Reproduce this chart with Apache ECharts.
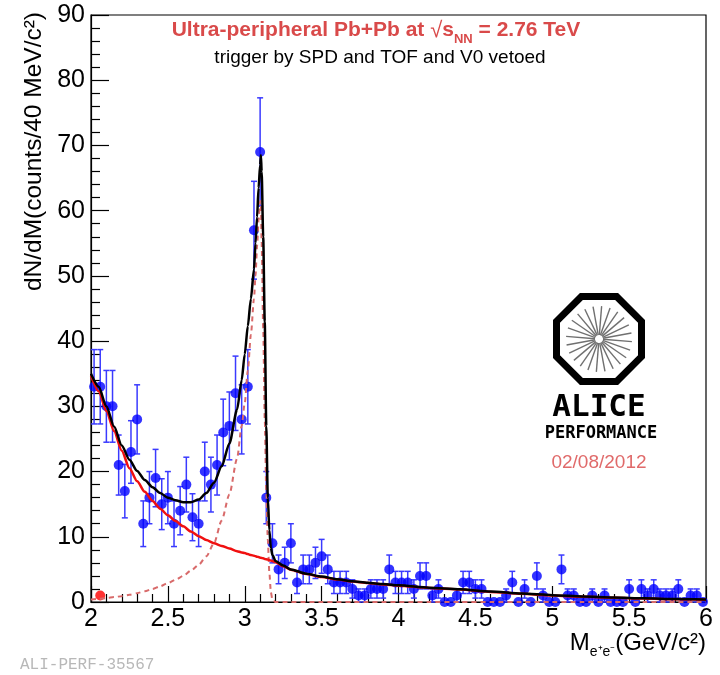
<!DOCTYPE html>
<html>
<head>
<meta charset="utf-8">
<title>Ultra-peripheral Pb+Pb e+e- invariant mass</title>
<script src="https://cdn.jsdelivr.net/npm/echarts@6/dist/echarts.min.js"></script>
<style>
  html, body { margin: 0; padding: 0; background: #ffffff; }
  #chart { width: 720px; height: 675px; }
</style>
</head>
<body>
<div id="chart"></div>
<script>
// Bin centres of the e+e- invariant mass histogram (GeV/c^2, 40 MeV bins)
const binCenters = [
  2.02, 2.06, 2.10, 2.14, 2.18, 2.22, 2.26, 2.30, 2.34, 2.38,
  2.42, 2.46, 2.50, 2.54, 2.58, 2.62, 2.66, 2.70, 2.74, 2.78,
  2.82, 2.86, 2.90, 2.94, 2.98, 3.02, 3.06, 3.10, 3.14, 3.18,
  3.22, 3.26, 3.30, 3.34, 3.38, 3.42, 3.46, 3.50, 3.54, 3.58,
  3.62, 3.66, 3.70, 3.74, 3.78, 3.82, 3.86, 3.90, 3.94, 3.98,
  4.02, 4.06, 4.10, 4.14, 4.18, 4.22, 4.26, 4.30, 4.34, 4.38,
  4.42, 4.46, 4.50, 4.54, 4.58, 4.62, 4.66, 4.70, 4.74, 4.78,
  4.82, 4.86, 4.90, 4.94, 4.98, 5.02, 5.06, 5.10, 5.14, 5.18,
  5.22, 5.26, 5.30, 5.34, 5.38, 5.42, 5.46, 5.50, 5.54, 5.58,
  5.62, 5.66, 5.70, 5.74, 5.78, 5.82, 5.86, 5.90, 5.94, 5.98
];

// Counts per bin
const counts = [
  33, 33, 30, 30, 21, 17, 23, 28, 12, 16,
  19, 15, 16, 12, 14, 18, 13, 12, 20, 18,
  21, 26, 27, 32, 28, 33, 57, 69, 16, 9,
  5, 6, 9, 3, 5, 5, 6, 7, 5, 3,
  3, 3, 2, 1, 1, 2, 2, 2, 5, 3,
  3, 3, 2, 4, 4, 1, 2, 0, 0, 1,
  3, 3, 2, 2, 0, 0, 0, 1, 3, 0,
  2, 0, 4, 1, 0, 0, 5, 1, 1, 0,
  0, 1, 0, 1, 0, 0, 0, 2, 0, 2,
  1, 2, 1, 1, 1, 2, 0, 1, 1, 0
];

// Statistical uncertainty per bin
const countErrors = [
  5.7, 5.7, 5.5, 5.5, 4.6, 4.1, 4.8, 5.3, 3.5, 4.0,
  4.4, 3.9, 4.0, 3.5, 3.7, 4.2, 3.6, 3.5, 4.5, 4.2,
  4.6, 5.1, 5.2, 5.7, 5.3, 5.7, 7.5, 8.3, 4.0, 3.0,
  2.2, 2.4, 3.0, 1.7, 2.2, 2.2, 2.4, 2.6, 2.2, 1.7,
  1.7, 1.7, 1.4, 1.0, 1.0, 1.4, 1.4, 1.4, 2.2, 1.7,
  1.7, 1.7, 1.4, 2.0, 2.0, 1.0, 1.4, 0, 0, 1.0,
  1.7, 1.7, 1.4, 1.4, 0, 0, 0, 1.0, 1.7, 0,
  1.4, 0, 2.0, 1.0, 0, 0, 2.2, 1.0, 1.0, 0,
  0, 1.0, 0, 1.0, 0, 0, 0, 1.4, 0, 1.4,
  1.0, 1.4, 1.0, 1.0, 1.0, 1.4, 0, 1.0, 1.0, 0
];

// Extra single red point near threshold
const redPoint = [[2.06, 1.0]];

// Mass values at which the fit functions are sampled
const fitMass = [
  2.00, 2.05, 2.10, 2.15, 2.20, 2.25, 2.30, 2.35, 2.40, 2.45,
  2.50, 2.55, 2.60, 2.65, 2.70, 2.75, 2.80, 2.85, 2.90, 2.95,
  2.98, 3.00, 3.02, 3.04, 3.06, 3.07, 3.08, 3.09, 3.10, 3.105,
  3.11, 3.12, 3.13, 3.14, 3.15, 3.16, 3.17, 3.18, 3.20, 3.25,
  3.30, 3.40, 3.50, 3.60, 3.70, 3.80, 3.90, 4.00, 4.20, 4.40,
  4.60, 4.80, 5.00, 5.20, 5.40, 5.60, 5.80, 6.00
];

// Total fit (signal + continuum)
const totalFit = [
  35.0, 33.0, 30.0, 26.9, 24.0, 21.8, 20.1, 18.7, 17.6, 16.7,
  16.0, 15.6, 15.3, 15.3, 15.7, 16.7, 18.3, 20.8, 24.3, 29.5,
  34.0, 38.0, 42.3, 46.5, 51.0, 55.0, 59.0, 63.5, 67.0, 68.5,
  66.0, 56.0, 43.0, 27.0, 16.0, 11.0, 8.3, 7.2, 6.3, 5.6,
  5.0, 4.35, 3.9, 3.5, 3.2, 2.95, 2.75, 2.55, 2.2, 1.95,
  1.6, 1.3, 1.05, 0.85, 0.7, 0.56, 0.47, 0.4
];

// Continuum (gamma gamma -> e+e-) component
const continuumFit = [
  34.7, 32.3, 29.3, 26.2, 23.2, 20.5, 18.5, 16.9, 15.5, 14.3,
  13.3, 12.4, 11.6, 10.8, 10.1, 9.5, 9.0, 8.6, 8.2, 7.8,
  7.6, 7.5, 7.35, 7.2, 7.1, 7.0, 6.95, 6.9, 6.8, 6.78,
  6.75, 6.7, 6.6, 6.55, 6.5, 6.4, 6.35, 6.3, 6.1, 5.5,
  4.95, 4.3, 3.85, 3.45, 3.15, 2.9, 2.7, 2.5, 2.15, 1.9,
  1.55, 1.25, 1.0, 0.8, 0.65, 0.52, 0.43, 0.36
];

// J/psi signal shape
const jpsiFit = [
  0.4, 0.5, 0.6, 0.75, 0.9, 1.1, 1.35, 1.65, 2.0, 2.4,
  2.9, 3.4, 4.0, 4.8, 5.7, 7.0, 9.0, 12.5, 16.5, 22.0,
  27.0, 30.5, 35.5, 41.0, 46.5, 50.0, 54.5, 58.5, 61.5, 61.0,
  55.0, 42.0, 28.0, 17.0, 9.5, 4.5, 1.5, 0.3, 0, 0,
  0, 0, 0, 0, 0, 0, 0, 0, 0, 0,
  0, 0, 0, 0, 0, 0, 0, 0
];

const xTicks = { min: 2, max: 6, step: 0.5 };
const yTicks = { min: 0, max: 90, step: 10 };

const FONT = 'Liberation Sans, Arial, Helvetica, sans-serif';

const pointData = binCenters.map((m, i) => [m, counts[i], countErrors[i]]);
const pair = (ys) => fitMass.map((m, i) => [m, ys[i]]);

const chart = echarts.init(document.getElementById('chart'), null, { renderer: 'canvas' });

// ALICE logo: octagon outline with radial spokes
const logoCx = 599, logoCy = 339, logoR = 46;
const octPts = [];
for (let k = 0; k < 8; k++) {
  const a = Math.PI / 8 + k * Math.PI / 4;
  octPts.push([logoCx + logoR * Math.cos(a), logoCy + logoR * Math.sin(a)]);
}
const spokes = [];
for (let k = 0; k < 24; k++) {
  const a = k * Math.PI / 12 + 0.08;
  spokes.push({
    type: 'line',
    shape: {
      x1: logoCx + 4 * Math.cos(a), y1: logoCy + 4 * Math.sin(a),
      x2: logoCx + 33 * Math.cos(a), y2: logoCy + 33 * Math.sin(a)
    },
    style: { stroke: '#707070', lineWidth: 1.4 }
  });
}

const option = {
  backgroundColor: '#ffffff',
  animation: false,
  grid: {
    left: 91, right: 14, top: 15, bottom: 73,
    show: true, borderColor: '#000', borderWidth: 1.2, backgroundColor: 'transparent'
  },
  xAxis: {
    type: 'value',
    min: xTicks.min, max: xTicks.max, interval: xTicks.step,
    axisLine: { show: true, lineStyle: { color: '#000', width: 1.2 } },
    axisTick: { show: true, inside: true, length: 16, lineStyle: { color: '#000', width: 1.2 } },
    minorTick: { show: true, splitNumber: 5, length: 8, lineStyle: { color: '#000', width: 1.2 } },
    splitLine: { show: false },
    axisLabel: { color: '#000', fontFamily: FONT, fontSize: 25, margin: 5 }
  },
  yAxis: {
    type: 'value',
    min: yTicks.min, max: yTicks.max, interval: yTicks.step,
    axisLine: { show: true, lineStyle: { color: '#000', width: 1.2 } },
    axisTick: { show: true, inside: true, length: 18, lineStyle: { color: '#000', width: 1.2 } },
    minorTick: { show: true, splitNumber: 5, length: 9, lineStyle: { color: '#000', width: 1.2 } },
    splitLine: { show: false },
    axisLabel: { color: '#000', fontFamily: FONT, fontSize: 25, margin: 6 }
  },
  series: [
    {
      name: 'errors',
      type: 'custom',
      clip: false,
      z: 2,
      data: pointData,
      renderItem: function (params, api) {
        const x = api.value(0), y = api.value(1), e = api.value(2);
        if (!(e > 0)) return { type: 'group', children: [] };
        const top = api.coord([x, y + e]);
        const bot = api.coord([x, y - e]);
        const cap = 3;
        const st = { stroke: '#3a3aff', lineWidth: 1.5 };
        return {
          type: 'group',
          children: [
            { type: 'line', shape: { x1: top[0], y1: top[1], x2: bot[0], y2: bot[1] }, style: st },
            { type: 'line', shape: { x1: top[0] - cap, y1: top[1], x2: top[0] + cap, y2: top[1] }, style: st },
            { type: 'line', shape: { x1: bot[0] - cap, y1: bot[1], x2: bot[0] + cap, y2: bot[1] }, style: st }
          ]
        };
      }
    },
    {
      name: 'data',
      type: 'scatter',
      clip: false,
      z: 3,
      symbol: 'circle',
      symbolSize: 10,
      itemStyle: { color: '#0000ff' },
      data: pointData.map(p => [p[0], p[1]])
    },
    {
      name: 'red point',
      type: 'scatter',
      clip: false,
      z: 3,
      symbol: 'circle',
      symbolSize: 10,
      itemStyle: { color: '#ff0000' },
      data: redPoint
    },
    {
      name: 'J/psi',
      type: 'line',
      clip: false,
      z: 4,
      showSymbol: false,
      smooth: 0.25,
      smoothMonotone: 'x',
      lineStyle: { color: '#d86a6a', width: 2, type: [5, 4] },
      data: pair(jpsiFit)
    },
    {
      name: 'continuum',
      type: 'line',
      clip: false,
      z: 5,
      showSymbol: false,
      smooth: 0.25,
      smoothMonotone: 'x',
      lineStyle: { color: '#f01010', width: 2.5 },
      data: pair(continuumFit)
    },
    {
      name: 'total',
      type: 'line',
      clip: false,
      z: 6,
      showSymbol: false,
      smooth: 0.25,
      smoothMonotone: 'x',
      lineStyle: { color: '#000000', width: 2.5 },
      data: pair(totalFit)
    }
  ],
  graphic: [
    // y-axis title
    {
      type: 'text', x: 47, y: 12, rotation: Math.PI / 2,
      style: {
        text: 'dN/dM(counts/40 MeV/c²)', fill: '#000',
        font: '24.5px ' + FONT, align: 'right', verticalAlign: 'bottom'
      }
    },
    // x-axis title
    {
      type: 'text', x: 706, y: 659,
      style: {
        text: '{m|M}{s|e⁺e⁻}{m|(GeV/c²)}',
        align: 'right', verticalAlign: 'bottom',
        rich: {
          m: { fontFamily: FONT, fontSize: 24, fill: '#000', lineHeight: 28, verticalAlign: 'top' },
          s: { fontFamily: FONT, fontSize: 14, fill: '#000', lineHeight: 14, verticalAlign: 'bottom' }
        }
      }
    },
    // headline
    {
      type: 'text', x: 376, y: 33,
      style: {
        text: '{t|Ultra-peripheral Pb+Pb at }{r|√}{t|s}{n|NN}{t| = 2.76 TeV}',
        align: 'center', verticalAlign: 'middle',
        rich: {
          t: { fontFamily: FONT, fontWeight: 'bold', fontSize: 21, fill: '#d94a4a', lineHeight: 26, verticalAlign: 'top' },
          r: { fontFamily: FONT, fontSize: 22, fill: '#d94a4a', lineHeight: 26, verticalAlign: 'top' },
          n: { fontFamily: FONT, fontWeight: 'bold', fontSize: 13, fill: '#d94a4a', lineHeight: 13, verticalAlign: 'bottom' }
        }
      }
    },
    {
      type: 'text', x: 380, y: 58,
      style: {
        text: 'trigger by SPD and TOF and V0 vetoed', fill: '#000',
        font: '19px ' + FONT, align: 'center', verticalAlign: 'middle'
      }
    },
    // logo
    {
      type: 'polygon',
      shape: { points: octPts },
      style: { fill: '#ffffff', stroke: '#000', lineWidth: 7 }
    },
    { type: 'group', children: spokes },
    {
      type: 'text', x: logoCx, y: 408,
      style: {
        text: 'ALICE', fill: '#000', font: 'bold 31px DejaVu Sans Mono, Liberation Mono, monospace',
        align: 'center', verticalAlign: 'middle'
      }
    },
    {
      type: 'text', x: logoCx + 2, y: 434,
      style: {
        text: 'PERFORMANCE', fill: '#000', font: 'bold 17px DejaVu Sans Mono, Liberation Mono, monospace',
        align: 'center', verticalAlign: 'middle'
      }
    },
    {
      type: 'text', x: logoCx, y: 463,
      style: {
        text: '02/08/2012', fill: '#e06a6a', font: '19px ' + FONT,
        align: 'center', verticalAlign: 'middle'
      }
    },
    // figure identifier
    {
      type: 'text', x: 20, y: 665,
      style: {
        text: 'ALI-PERF-35567', fill: '#b8b8b8', font: '16px Liberation Mono, Courier New, monospace',
        align: 'left', verticalAlign: 'middle'
      }
    }
  ]
};

chart.setOption(option);
</script>
</body>
</html>
